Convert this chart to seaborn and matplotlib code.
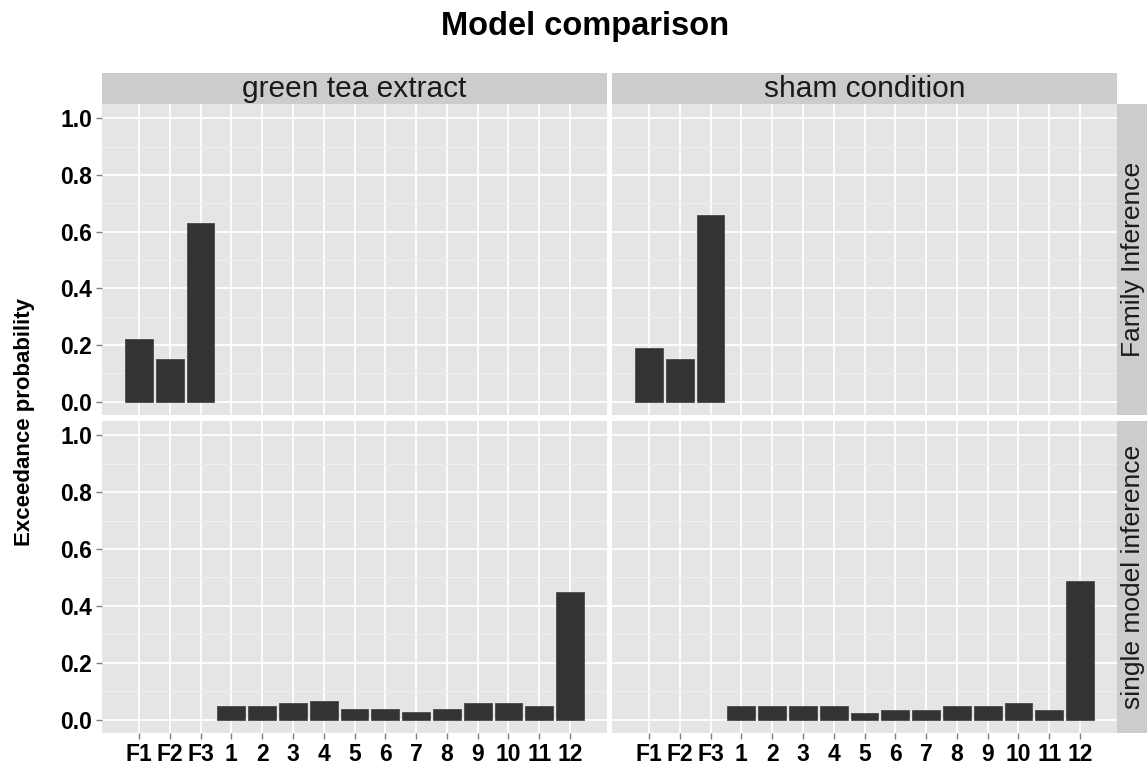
import numpy as np
import pandas as pd
import matplotlib
matplotlib.use("Agg")
import matplotlib.pyplot as plt
from matplotlib.ticker import MultipleLocator
import seaborn as sns

categories = ["F1", "F2", "F3", "1", "2", "3", "4", "5", "6", "7", "8", "9", "10", "11", "12"]
family_labels = ["F1", "F2", "F3"]
model_labels = ["1", "2", "3", "4", "5", "6", "7", "8", "9", "10", "11", "12"]

family_green = [0.22, 0.15, 0.63]
family_sham = [0.19, 0.15, 0.66]
single_green = [0.047, 0.047, 0.057, 0.067, 0.036, 0.036, 0.026, 0.036, 0.057, 0.057, 0.047, 0.448]
single_sham = [0.047, 0.047, 0.047, 0.047, 0.025, 0.035, 0.035, 0.047, 0.047, 0.057, 0.035, 0.488]

conditions = ["green tea extract", "sham condition"]
inferences = ["Family Inference", "single model inference"]
y_ticks = [0.0, 0.2, 0.4, 0.6, 0.8, 1.0]

rows = []
for m, v in zip(family_labels, family_green):
    rows.append(("green tea extract", "Family Inference", m, v))
for m, v in zip(family_labels, family_sham):
    rows.append(("sham condition", "Family Inference", m, v))
for m, v in zip(model_labels, single_green):
    rows.append(("green tea extract", "single model inference", m, v))
for m, v in zip(model_labels, single_sham):
    rows.append(("sham condition", "single model inference", m, v))
df = pd.DataFrame(rows, columns=["condition", "inference", "model", "prob"])

sns.set_theme(style="darkgrid")
plt.rcParams["font.family"] = ["Liberation Sans", "DejaVu Sans"]

W, H = 1147, 764
fig = plt.figure(figsize=(W / 100, H / 100), dpi=100)
fig.patch.set_facecolor("white")

def fx(px):
    return px / W

def fy(py):
    return 1 - py / H

col_x = [(102, 607), (612, 1117)]
row_y = [(104, 415), (421, 733)]

bg = "#E5E5E5"
strip_bg = "#CCCCCC"
tick_col = "#7F7F7F"

for ri, inf in enumerate(inferences):
    for ci, cond in enumerate(conditions):
        x0, x1 = col_x[ci]
        y0, y1 = row_y[ri]
        ax = fig.add_axes([fx(x0), fy(y1), fx(x1 - x0), (y1 - y0) / H])
        ax.set_facecolor(bg)
        sub = df[(df.condition == cond) & (df.inference == inf)]
        sns.barplot(data=sub, x="model", y="prob", order=categories, color="#333333",
                    saturation=1, width=0.9, ax=ax, edgecolor="#4a4a4a", linewidth=0.6)
        ax.set_xlim(-1.2, 15.2)
        ax.set_ylim(-0.047, 1.05)
        ax.set_yticks(y_ticks)
        ax.yaxis.set_minor_locator(MultipleLocator(0.1))
        ax.set_xticks(range(len(categories)))
        ax.grid(which="major", color="white", linewidth=1.3)
        ax.grid(which="minor", axis="y", color="#F0F0F0", linewidth=0.7)
        ax.set_axisbelow(True)
        for s in ax.spines.values():
            s.set_visible(False)
        ax.set_xlabel("")
        ax.set_ylabel("")
        ax.tick_params(axis="both", which="major", length=4, width=1, color=tick_col,
                       labelsize=16.5, labelcolor="black", pad=3, bottom=True, left=True)
        ax.tick_params(axis="y", which="minor", length=0)
        if ci == 0:
            ax.set_yticklabels([f"{t:.1f}" for t in y_ticks], fontweight="bold")
        else:
            ax.tick_params(axis="y", which="major", left=False, labelleft=False)
        if ri == 1:
            ax.set_xticklabels(categories, fontweight="bold")
        else:
            ax.tick_params(axis="x", which="major", bottom=False, labelbottom=False)

# top strips
for ci, cond in enumerate(conditions):
    x0, x1 = col_x[ci]
    sax = fig.add_axes([fx(x0), fy(104), fx(x1 - x0), 31 / H])
    sax.set_facecolor(strip_bg)
    sax.set_xticks([]); sax.set_yticks([])
    for s in sax.spines.values():
        s.set_visible(False)
    sax.text(0.5, 0.48, cond, ha="center", va="center", fontsize=21.5, color="#1A1A1A",
             transform=sax.transAxes)

# right strips
for ri, inf in enumerate(inferences):
    y0, y1 = row_y[ri]
    sax = fig.add_axes([fx(1117), fy(y1), fx(30), (y1 - y0) / H])
    sax.set_facecolor(strip_bg)
    sax.set_xticks([]); sax.set_yticks([])
    for s in sax.spines.values():
        s.set_visible(False)
    sax.text(0.52, 0.5, inf, ha="center", va="center", fontsize=19, color="#1A1A1A",
             rotation=90, transform=sax.transAxes)

fig.text(fx(585), fy(26), "Model comparison", ha="center", va="center",
         fontsize=23.5, fontweight="bold", color="black")
fig.text(fx(25), fy(422), "Exceedance probability", ha="center", va="center",
         fontsize=16, fontweight="bold", rotation=90, color="black")

fig.savefig("out.png", dpi=100, facecolor="white")
